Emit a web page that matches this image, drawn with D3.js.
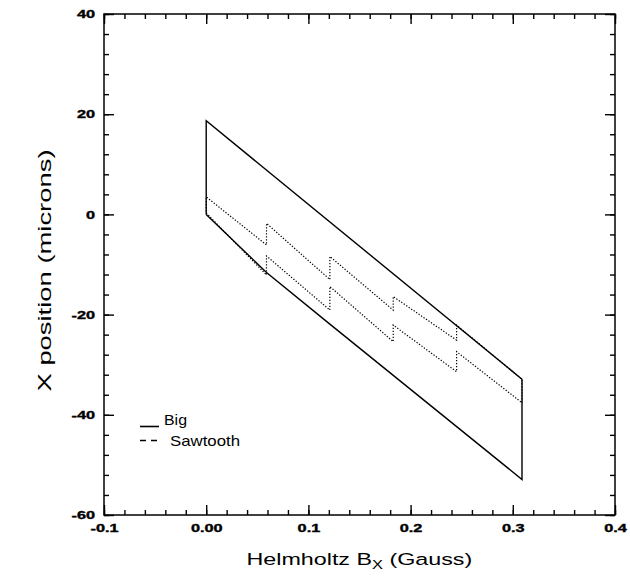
<!DOCTYPE html>
<html>
<head>
<meta charset="utf-8">
<script src="https://cdn.jsdelivr.net/npm/d3@7"></script>
<style>
  body { margin: 0; background: #fff; }
  svg { display: block; }
  text { font-family: "Liberation Sans", Arial, sans-serif; fill: #000; }
</style>
</head>
<body>
<div id="chart"></div>
<script>

// tick values / labels
var xTicks = [-0.1, 0.0, 0.1, 0.2, 0.3, 0.4]
var xTickLabels = ["-0.1", "0.00", "0.1", "0.2", "0.3", "0.4"]
var yTicks = [40, 20, 0, -20, -40, -60]

// "Big": one large field step out and back (closed loop)
var bigX = [0.0, 0.059, 0.121, 0.309, 0.309, 0.0, 0.0]
var bigY = [0.0, -11.6, -21.9, -52.9, -32.9, 18.7, 0.0]

// "Sawtooth": five small steps out, five back
var sawX = [0.0, 0.059, 0.059, 0.121, 0.121, 0.183, 0.183, 0.245, 0.245, 0.309,
            0.309, 0.245, 0.245, 0.183, 0.183, 0.121, 0.121, 0.059, 0.059, 0.0, 0.0]
var sawY = [0.3, -12.1, -8.3, -19.1, -14.4, -25.4, -22.1, -31.4, -27.4, -37.6,
            -32.9, -22.1, -25.1, -16.4, -19.1, -8.4, -13.0, -1.8, -6.1, 3.5, 0.3]

var seriesNames = ["Big", "Sawtooth"]

var width = 630
var height = 579

var svg = d3.select("#chart")
  .append("svg")
  .attr("width", width)
  .attr("height", height)

var xScale = d3.scaleLinear().domain([-0.1, 0.4]).range([104, 615])
var yScale = d3.scaleLinear().domain([-60, 40]).range([515, 14])

var x0 = xScale.range()[0], x1 = xScale.range()[1]
var y0 = yScale.range()[0], y1 = yScale.range()[1]

var xMinor = d3.range(-0.1, 0.4001, 0.02)
var yMinor = d3.range(-60, 40.01, 4)

var labelStretch = 1.55

function addAxis(axisFn, scale, tx, ty, values, size, fmt, pad) {
  var ax = axisFn(scale)
    .tickValues(values)
    .tickSizeInner(-size)
    .tickSizeOuter(0)
    .tickPadding(pad || 0)
    .tickFormat(fmt || "")
  var g = svg.append("g")
    .attr("transform", "translate(" + tx + "," + ty + ")")
    .call(ax)
  g.select(".domain").remove()
  g.selectAll("line").attr("stroke", "#000").attr("stroke-width", 1.4)
  return g
}

// minor ticks, all four sides, pointing in
addAxis(d3.axisBottom, xScale, 0, y0, xMinor, 5)
addAxis(d3.axisTop, xScale, 0, y1, xMinor, 5)
addAxis(d3.axisLeft, yScale, x0, 0, yMinor, 5)
addAxis(d3.axisRight, yScale, x1, 0, yMinor, 5)

// major ticks
var gx = addAxis(d3.axisBottom, xScale, 0, y0, xTicks, 10,
  function(d) { return xTickLabels[xTicks.indexOf(d)] }, 10)
addAxis(d3.axisTop, xScale, 0, y1, xTicks, 10)
var gy = addAxis(d3.axisLeft, yScale, x0, 0, yTicks, 10,
  function(d) { return String(d) }, 9 / labelStretch)
addAxis(d3.axisRight, yScale, x1, 0, yTicks, 10)

;[gx, gy].forEach(function(g) {
  g.attr("font-family", null).attr("font-size", null)
  g.selectAll("text")
    .style("font-size", "10.5px")
    .style("font-weight", "bold")
    .attr("stroke", "#000")
    .attr("stroke-width", 0.35)
    .attr("transform", "scale(" + labelStretch + ",1)")
})
gy.selectAll("text").attr("dy", "0.36em")

// frame
svg.append("rect")
  .attr("x", x0)
  .attr("y", y1)
  .attr("width", x1 - x0)
  .attr("height", y0 - y1)
  .attr("fill", "none")
  .attr("stroke", "#000")
  .attr("stroke-width", 1.5)

var line = d3.line()
  .x(function(d) { return xScale(d[0]) })
  .y(function(d) { return yScale(d[1]) })

svg.append("path")
  .datum(d3.zip(sawX, sawY))
  .attr("d", line)
  .attr("fill", "none")
  .attr("stroke", "#000")
  .attr("stroke-width", 1.2)
  .attr("stroke-dasharray", "1.3,1.7")

svg.append("path")
  .datum(d3.zip(bigX, bigY))
  .attr("d", line)
  .attr("fill", "none")
  .attr("stroke", "#000")
  .attr("stroke-width", 1.4)

// legend
var legend = svg.append("g")
legend.append("line")
  .attr("x1", 140).attr("x2", 159)
  .attr("y1", 426.5).attr("y2", 426.5)
  .attr("stroke", "#000").attr("stroke-width", 1.6)
legend.append("text")
  .attr("x", 164).attr("y", 424.5)
  .style("font-size", "15px")
  .attr("textLength", 23)
  .attr("lengthAdjust", "spacingAndGlyphs")
  .text(seriesNames[0])
legend.append("line")
  .attr("x1", 140).attr("x2", 157)
  .attr("y1", 440.5).attr("y2", 440.5)
  .attr("stroke", "#000").attr("stroke-width", 1.3)
  .attr("stroke-dasharray", "6,5")
legend.append("text")
  .attr("x", 170).attr("y", 446)
  .style("font-size", "15px")
  .attr("textLength", 70)
  .attr("lengthAdjust", "spacingAndGlyphs")
  .text(seriesNames[1])

// y title
svg.append("text")
  .attr("transform", "translate(51," + ((y0 + y1) / 2 + 6) + ") rotate(-90)")
  .attr("text-anchor", "middle")
  .style("font-size", "18px")
  .attr("textLength", 242)
  .attr("lengthAdjust", "spacingAndGlyphs")
  .text("X position (microns)")

// x title with subscript, stretched to the scanned width
var xt = svg.append("text")
  .style("font-size", "17px")
xt.append("tspan").text("Helmholtz B")
xt.append("tspan").style("font-size", "12px").attr("dy", 4).text("X")
xt.append("tspan").attr("dy", -4).text(" (Gauss)")
var w = xt.node().getBBox().width
var s = 226 / w
xt.attr("transform", "translate(" + ((x0 + x1) / 2 - w * s / 2) + ",565) scale(" + s + ",1)")

</script>
</body>
</html>
